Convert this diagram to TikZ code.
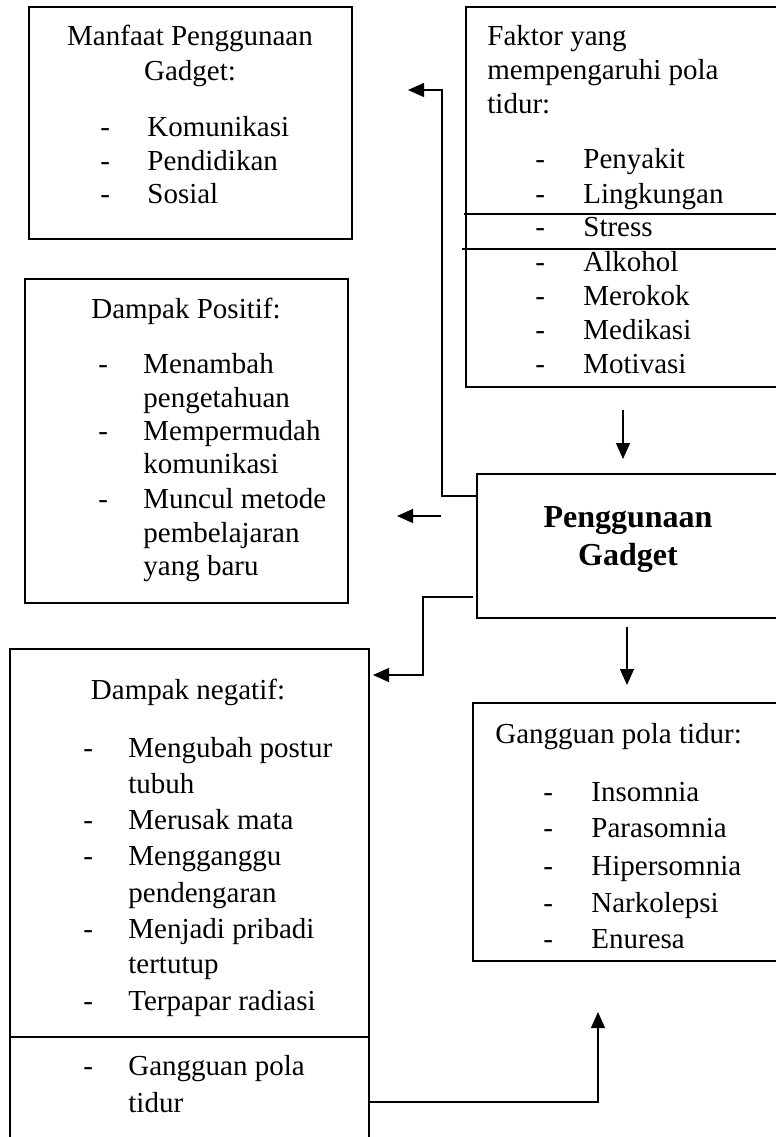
\documentclass[tikz,border=0pt]{standalone}
\usepackage{fontspec}
\setmainfont{Liberation Serif}
\usetikzlibrary{arrows.meta,fit}
\tikzset{
  box/.style={draw, line width=1pt, inner sep=0pt},
  conn/.style={draw, line width=0.6pt},
  arr/.style={conn, -{Triangle[length=8pt,width=7pt]}},
  txt/.style={inner sep=0pt, anchor=base west, font=\fontsize{14.5}{17}\selectfont},
  ctxt/.style={txt, anchor=base},
  btxt/.style={inner sep=0pt, anchor=base, font=\fontsize{16}{19}\selectfont\bfseries},
}
\begin{document}
\begin{tikzpicture}[x=0.5pt,y=-0.5pt]
\clip (0,0) rectangle (776,1137);
\fill[white] (0,0) rectangle (776,1137);

% boxes
\node[box, fit={(29,7) (352,239)}] (manfaat) {};
\node[box, fit={(466,7) (800,387)}] (faktor) {};
\node[box, fit={(25,279) (348,603)}] (positif) {};
\node[box, fit={(477,474) (800,618)}] (gadget) {};
\node[box, fit={(10,649) (369,1160)}] (negatif) {};
\node[box, fit={(473,703) (800,961)}] (gangguan) {};

% extra lines
\coordinate (s1a) at (464,214); \coordinate (s1b) at (776,214);
\coordinate (s2a) at (462,249); \coordinate (s2b) at (776,249);
\draw[conn] (s1a) -- (s1b);
\draw[conn] (s2a) -- (s2b);
\coordinate (da) at (10,1037); \coordinate (db) at (369,1037);
\draw[line width=1pt] (da) -- (db);

% Manfaat text
\node[ctxt] (m0) at (190,45) {Manfaat Penggunaan};
\node[ctxt] (m1) at (190,80) {Gadget:};
\node[txt] (m2d) at (100,136) {-}; \node[txt] (m2) at (147,136) {Komunikasi};
\node[txt] (m3d) at (100,170) {-}; \node[txt] (m3) at (147,170) {Pendidikan};
\node[txt] (m4d) at (100,203) {-}; \node[txt] (m4) at (147,203) {Sosial};

% Faktor text
\node[txt] (f0) at (487,45) {Faktor yang};
\node[txt] (f1) at (487,79) {mempengaruhi pola};
\node[txt] (f2) at (487,113) {tidur:};
\node[txt] (f3d) at (535,168) {-}; \node[txt] (f3) at (583,168) {Penyakit};
\node[txt] (f4d) at (535,203) {-}; \node[txt] (f4) at (583,203) {Lingkungan};
\node[txt] (f5d) at (535,236) {-}; \node[txt] (f5) at (583,236) {Stress};
\node[txt] (f6d) at (535,271) {-}; \node[txt] (f6) at (583,271) {Alkohol};
\node[txt] (f7d) at (535,305) {-}; \node[txt] (f7) at (583,305) {Merokok};
\node[txt] (f8d) at (535,339) {-}; \node[txt] (f8) at (583,339) {Medikasi};
\node[txt] (f9d) at (535,373) {-}; \node[txt] (f9) at (583,373) {Motivasi};

% Positif text
\node[ctxt] (p0) at (186,318) {Dampak Positif:};
\node[txt] (p1d) at (98,373) {-}; \node[txt] (p1) at (143,373) {Menambah};
\node[txt] (p2) at (143,407) {pengetahuan};
\node[txt] (p3d) at (98,440) {-}; \node[txt] (p3) at (143,440) {Mempermudah};
\node[txt] (p4) at (143,473) {komunikasi};
\node[txt] (p5d) at (98,508) {-}; \node[txt] (p5) at (143,508) {Muncul metode};
\node[txt] (p6) at (143,542) {pembelajaran};
\node[txt] (p7) at (143,575) {yang baru};

% Gadget text
\node[btxt] (g0) at (628,527) {Penggunaan};
\node[btxt] (g1) at (628,565) {Gadget};

% Negatif text
\node[ctxt] (n0) at (188,699) {Dampak negatif:};
\node[txt] (n1d) at (83,757) {-}; \node[txt] (n1) at (128,757) {Mengubah postur};
\node[txt] (n2) at (128,793) {tubuh};
\node[txt] (n3d) at (83,829) {-}; \node[txt] (n3) at (128,829) {Merusak mata};
\node[txt] (n4d) at (83,865) {-}; \node[txt] (n4) at (128,865) {Mengganggu};
\node[txt] (n5) at (128,902) {pendengaran};
\node[txt] (n6d) at (83,938) {-}; \node[txt] (n6) at (128,938) {Menjadi pribadi};
\node[txt] (n7) at (128,973) {tertutup};
\node[txt] (n8d) at (83,1010) {-}; \node[txt] (n8) at (128,1010) {Terpapar radiasi};
\node[txt] (n9d) at (83,1075) {-}; \node[txt] (n9) at (128,1075) {Gangguan pola};
\node[txt] (n10) at (128,1112) {tidur};

% Gangguan text
\node[txt] (k0) at (495,743) {Gangguan pola tidur:};
\node[txt] (k1d) at (543,801) {-}; \node[txt] (k1) at (591,801) {Insomnia};
\node[txt] (k2d) at (543,837) {-}; \node[txt] (k2) at (591,837) {Parasomnia};
\node[txt] (k3d) at (543,875) {-}; \node[txt] (k3) at (591,875) {Hipersomnia};
\node[txt] (k4d) at (543,912) {-}; \node[txt] (k4) at (591,912) {Narkolepsi};
\node[txt] (k5d) at (543,948) {-}; \node[txt] (k5) at (591,948) {Enuresa};

% connectors
\coordinate (c1s) at (477,496); \coordinate (c1e) at (408,90);
\draw[arr] (c1s) -- (442,496) -- (442,90) -- (c1e);

\coordinate (c2s) at (441,516); \coordinate (c2e) at (397,516);
\draw[arr] (c2s) -- (c2e);

\coordinate (c3s) at (473,597); \coordinate (c3e) at (373,675);
\draw[arr] (c3s) -- (423,597) -- (423,675) -- (c3e);

\coordinate (c4s) at (623,410); \coordinate (c4e) at (623,459);
\draw[arr] (c4s) -- (c4e);

\coordinate (c5s) at (627,627); \coordinate (c5e) at (627,685);
\draw[arr] (c5s) -- (c5e);

\coordinate (c6s) at (369,1102); \coordinate (c6e) at (598,1012);
\draw[arr] (c6s) -- (598,1102) -- (c6e);
\end{tikzpicture}
\end{document}
